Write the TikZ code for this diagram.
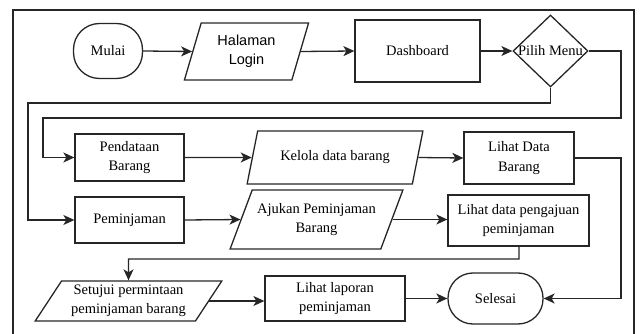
\documentclass[tikz,border=0pt]{standalone}
\usepackage{fontspec}
\setmainfont{Liberation Serif}
\newfontfamily\arialfont{Liberation Sans}
\usetikzlibrary{shapes.geometric,arrows.meta}
\begin{document}
\begin{tikzpicture}[x=1pt,y=-1pt,
  every node/.style={font=\fontsize{14.5}{19.5}\selectfont, align=center, inner sep=0pt, text=black},
  ln/.style={draw=black!85, line width=1.3pt},
  arr/.style={ln, -{Stealth[length=11pt,width=10pt,inset=3pt]}},
  procbox/.style={draw=black!85, line width=1.3pt, rectangle},
  termbox/.style={draw=black!85, line width=1.3pt, rectangle},
  iobox/.style={draw=black!85, line width=1.3pt, trapezium, trapezium stretches=true},
  decbox/.style={draw=black!85, line width=1.3pt, diamond}
]
\useasboundingbox (0,0) rectangle (640,334);
\draw[ln] (13,334) -- (13,10) -- (634,10) -- (634,334);

% nodes
\node[termbox, rounded corners=26pt, minimum width=69, minimum height=55] (mulai) at (108,51) {Mulai};
\node[iobox, trapezium left angle=72, trapezium right angle=108, minimum width=125, minimum height=57] (login) at (246.5,51.5) {\arialfont Halaman\\\arialfont Login};
\node[procbox, minimum width=125, minimum height=62] (dash) at (417.5,51) {Dashboard};
\node[decbox, minimum width=75, minimum height=72] (menu) at (550.5,51) {\makebox[0pt]{Pilih Menu}};

\node[procbox, minimum width=109, minimum height=47] (pendataan) at (129.5,157.5) {Pendataan\\Barang};
\node[iobox, trapezium left angle=60.5, trapezium right angle=119.5, minimum width=176, minimum height=53] (kelola) at (335,157.5) {Kelola data barang};
\node[procbox, minimum width=110, minimum height=52] (lihatdata) at (519,158) {Lihat Data\\Barang};

\node[procbox, minimum width=109, minimum height=46] (pinjam) at (129.5,220) {Peminjaman};
\node[iobox, trapezium left angle=58, trapezium right angle=122, minimum width=173, minimum height=59] (ajukan) at (316.5,219.5) {Ajukan Peminjaman\\Barang};
\node[procbox, minimum width=141, minimum height=51] (pengajuan) at (518.5,220.5) {Lihat data pengajuan\\peminjaman};

\node[iobox, trapezium left angle=55, trapezium right angle=125, minimum width=187, minimum height=40] (setujui) at (128.5,301) {Setujui permintaan\\peminjaman barang};
\node[procbox, minimum width=140, minimum height=45] (laporan) at (335,298.5) {Lihat laporan\\peminjaman};
\node[termbox, rounded corners=25pt, minimum width=95, minimum height=51] (selesai) at (495.5,298.5) {Selesai};

% bend points
\coordinate (m1) at (621,51);
\coordinate (m2) at (621,118);
\coordinate (m3) at (43,118);
\coordinate (s1) at (550.5,103);
\coordinate (s2) at (28,103);
\coordinate (r1) at (621,158);
\coordinate (r2) at (621,298.5);
\coordinate (p1) at (519,259);
\coordinate (p2) at (128.5,259);

% connectors
\draw[arr] (mulai.east) -- (login.west);
\draw[arr] (login.east) -- (dash.west);
\draw[arr] (dash.east) -- (menu.west);
\draw[arr] (menu.east) -- (m1) -- (m2) -- (m3) |- (pendataan.west);
\draw[arr] (menu.south) -- (s1) -- (s2) |- (pinjam.west);
\draw[arr] (pendataan.east) -- (kelola.west);
\draw[arr] (kelola.east) -- (lihatdata.west);
\draw[arr] (lihatdata.east) -- (r1) -- (r2) -- (selesai.east);
\draw[arr] (pinjam.east) -- (ajukan.west);
\draw[arr] (ajukan.east) -- (ajukan.east -| pengajuan.west);
\draw[arr] (pengajuan.south -| p1) -- (p1) -- (p2) -- (setujui.north);
\draw[arr] (setujui.east) -- (setujui.east -| laporan.west);
\draw[arr, line width=1.8pt] (laporan.east) -- (selesai.west);
\end{tikzpicture}
\end{document}
